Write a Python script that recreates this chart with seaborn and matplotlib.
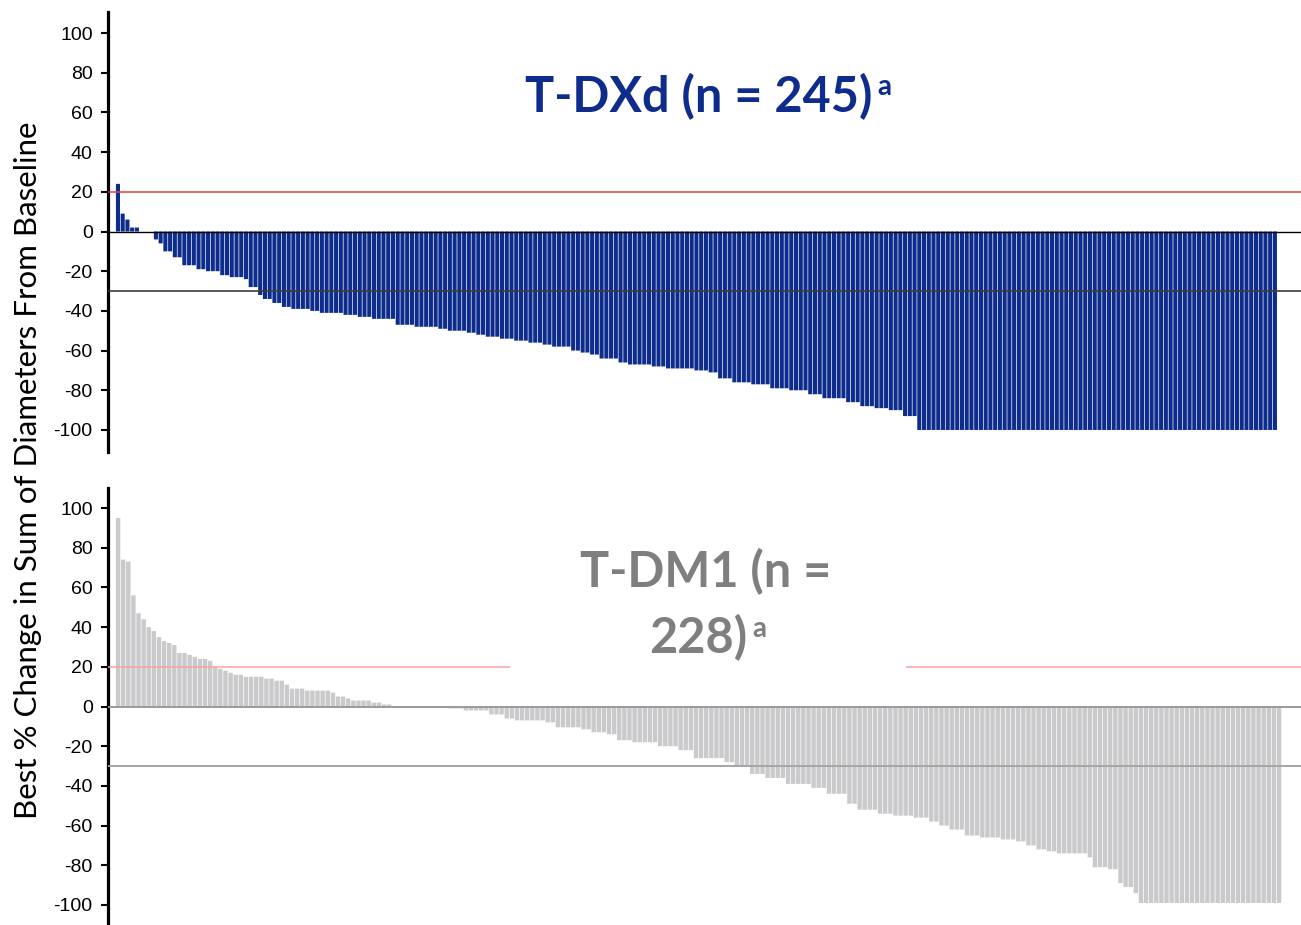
import numpy as np
import matplotlib
matplotlib.use("Agg")
import matplotlib.pyplot as plt
import seaborn as sns

sns.set_style("white")
plt.rcParams['font.family'] = ['Liberation Sans', 'DejaVu Sans']
plt.rcParams['axes.unicode_minus'] = False

# best % change per patient, sorted
tdxd_vals = [
    24, 9, 6, 2, 2, 0, 0, 0,
    -4, -6, -10, -10, -13, -13, -17, -17, -17,
    -19, -19, -20, -20, -20, -22, -22, -23, -23, -23, -24,
    -28, -28, -32, -34, -34, -36, -36, -38, -38,
    -39, -39, -39, -39, -40, -40, -41, -41, -41, -41, -41,
    -42, -42, -42, -43, -43, -43, -44, -44, -44, -44, -44,
    -47, -47, -47, -47, -48, -48, -48, -48, -48, -49, -49,
    -50, -50, -50, -50, -51, -51, -52, -52, -53, -53, -53,
    -54, -54, -54, -55, -55, -55, -56, -56, -56, -57, -57,
    -58, -58, -58, -58, -60, -60, -61, -61, -62, -62,
    -64, -64, -64, -64, -66, -66, -67, -67, -67, -67, -67,
    -68, -68, -68, -69, -69, -69, -69, -69, -69,
    -70, -70, -70, -71, -71, -74, -74, -74,
    -76, -76, -76, -76, -77, -77, -77, -77,
    -79, -79, -79, -79, -80, -80, -80, -80,
    -82, -82, -82, -84, -84, -84, -84, -84,
    -86, -86, -86, -88, -88, -88, -89, -89, -89,
    -90, -90, -90, -93, -93, -93,
    -100, -100, -100, -100, -100, -100, -100, -100, -100, -100, -100, -100, -100, -100, -100, -100, -100, -100, -100,
    -100, -100, -100, -100, -100, -100, -100, -100, -100, -100, -100, -100, -100, -100, -100, -100, -100, -100, -100,
    -100, -100, -100, -100, -100, -100, -100, -100, -100, -100, -100, -100, -100, -100, -100, -100, -100, -100, -100,
    -100, -100, -100, -100, -100, -100, -100, -100, -100, -100, -100, -100, -100, -100, -100, -100, -100, -100, -100,
]

tdm1_vals = [
    95, 74, 73, 56, 47, 44, 40, 38, 35, 33, 32, 31,
    27, 27, 26, 25, 24, 24, 23, 20, 19, 18, 17, 16, 16,
    15, 15, 15, 15, 14, 14, 13, 13, 11, 9, 9, 9,
    8, 8, 8, 8, 8, 7, 5, 5, 4, 3, 3, 3, 3,
    2, 2, 1, 1, 0, 0, 0, 0, 0, 0, 0, 0, 0, 0, 0,
    -1, -1, -1, -2, -2, -2, -2, -2, -4, -4, -4,
    -6, -6, -7, -7, -7, -7, -7, -7, -8, -8,
    -10.5, -10.5, -10.5, -10.5, -10.5, -11.5, -11.5, -13, -13, -13, -14, -14,
    -17, -17, -17, -18, -18, -18, -18, -18,
    -20, -20, -20, -20, -22, -22, -22,
    -26, -26, -26, -26, -26, -26, -28, -28, -30, -30, -30,
    -34, -34, -34, -36, -36, -36, -36,
    -39, -39, -39, -39, -39, -41, -41, -41,
    -44, -44, -44, -44, -49, -49,
    -52, -52, -52, -52, -54, -54, -54,
    -55, -55, -55, -55, -56, -56, -56,
    -58, -58, -60, -60, -62, -62, -62,
    -65, -65, -65, -66, -66, -66, -66,
    -67, -67, -67, -68, -68, -70, -70,
    -72, -72, -73, -73, -74, -74, -74, -74, -74, -74,
    -76, -81, -81, -81, -82, -82, -89, -91, -91, -94,
    -99, -99, -99, -99, -99, -99, -99, -99, -99, -99, -99, -99, -99, -99,
    -99, -99, -99, -99, -99, -99, -99, -99, -99, -99, -99, -99, -99, -99,
]

yticks = [100, 80, 60, 40, 20, 0, -20, -40, -60, -80, -100]
navy = "#0D2C8C"
grey_bar = "#CACACC"

W, H = 1301, 925
fig = plt.figure(figsize=(W / 100, H / 100), dpi=100)
ax1 = fig.add_axes([108 / W, 1 - 452 / H, 1 - 108 / W, 440 / H])
ax2 = fig.add_axes([108 / W, 0, 1 - 108 / W, 437 / H])


def waterfall(ax, vals, color, ylim, xpad):
    n = len(vals)
    sns.barplot(x=np.arange(n), y=vals, color=color, saturation=1,
                width=0.86, linewidth=0, errorbar=None, ax=ax)
    # no pixel snapping -> even, faint gaps between the thin bars
    for p in ax.patches:
        p.set_snap(False)
    ax.set_xlim(-xpad[0], n - 1 + xpad[1])
    ax.set_ylim(*ylim)
    ax.set_xticks([])
    ax.set_xlabel("")
    ax.set_ylabel("")
    ax.set_yticks(yticks)
    for s in ["top", "right", "bottom"]:
        ax.spines[s].set_visible(False)
    ax.spines["left"].set_linewidth(2.3)
    ax.spines["left"].set_color("black")
    ax.tick_params(axis="y", direction="out", length=5, width=1.5,
                   labelsize=14, pad=6, left=True, colors="black")


waterfall(ax1, tdxd_vals, navy, (-111.1, 110.6), (2.1, 5.5))
waterfall(ax2, tdm1_vals, grey_bar, (-110.1, 110.1), (1.97, 4.3))

# reference lines
ax1.axhline(20, color="#E8403A", lw=1.1, zorder=4)
ax1.axhline(0, color="black", lw=1.0, zorder=4)
ax1.axhline(-30, color="#3C3C3C", lw=1.2, zorder=4)

ax2.axhline(20, color="#F4A3A3", lw=1.1, zorder=4)
ax2.axhline(0, color="#9A9A9A", lw=1.4, zorder=4)
ax2.axhline(-30, color="#A5A5A5", lw=1.4, zorder=4)
# white box behind the lower title hides part of the red line
ax2.axvspan(76.6, 154, ymin=0.56, ymax=1.0, color="white", lw=0, zorder=5)

title_font = ['Lato', 'DejaVu Sans']
fig.text(699 / W, 1 - 112 / H, "T-DXd (n = 245)", ha="center", va="baseline",
         fontsize=35, fontweight="bold", color=navy, family=title_font, zorder=6)
fig.text(877 / W, 1 - 95 / H, "a", ha="left", va="baseline",
         fontsize=20, fontweight="bold", color=navy, family=title_font, zorder=6)

fig.text(706 / W, 1 - 587 / H, "T-DM1 (n =", ha="center", va="baseline",
         fontsize=35, fontweight="bold", color="#7F7F7F", family=title_font, zorder=6)
fig.text(698 / W, 1 - 653 / H, "228)", ha="center", va="baseline",
         fontsize=35, fontweight="bold", color="#7F7F7F", family=title_font, zorder=6)
fig.text(752 / W, 1 - 637 / H, "a", ha="left", va="baseline",
         fontsize=20, fontweight="bold", color="#7F7F7F", family=title_font, zorder=6)

fig.text(28 / W, 1 - 470 / H, "Best % Change in Sum of Diameters From Baseline",
         rotation=90, ha="center", va="center", fontsize=22.5,
         family=['Lato', 'DejaVu Sans'], color="black")

plt.savefig("out.png", dpi=100)
